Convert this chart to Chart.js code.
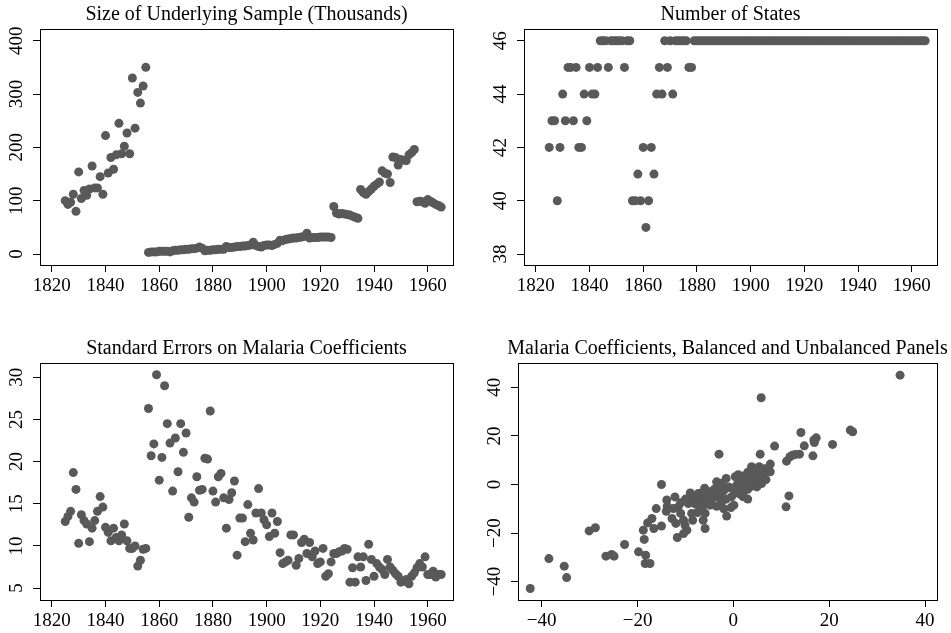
<!DOCTYPE html>
<html>
<head>
<meta charset="utf-8">
<script src="https://cdn.jsdelivr.net/npm/chart.js@4.4.1/dist/chart.umd.min.js"></script>
<style>
html,body{margin:0;padding:0;background:#fff;width:951px;height:633px;overflow:hidden}
canvas{position:absolute;left:0;top:0}
</style>
</head>
<body>
<canvas id="p1" width="951" height="633"></canvas>
<canvas id="p2" width="951" height="633"></canvas>
<canvas id="p3" width="951" height="633"></canvas>
<canvas id="p4" width="951" height="633"></canvas>
<script>
// ---------- data ----------
const years = [
  1825,1826,1827,1828,1829,1830,1831,1832,1833,1834,
  1835,1836,1837,1838,1839,1840,1841,1842,1843,1844,
  1845,1846,1847,1848,1849,1850,1851,1852,1853,1854,
  1855,1856,1857,1858,1859,1860,1861,1862,1863,1864,
  1865,1866,1867,1868,1869,1870,1871,1872,1873,1874,
  1875,1876,1877,1878,1879,1880,1881,1882,1883,1884,
  1885,1886,1887,1888,1889,1890,1891,1892,1893,1894,
  1895,1896,1897,1898,1899,1900,1901,1902,1903,1904,
  1905,1906,1907,1908,1909,1910,1911,1912,1913,1914,
  1915,1916,1917,1918,1919,1920,1921,1922,1923,1924,
  1925,1926,1927,1928,1929,1930,1931,1932,1933,1934,
  1935,1936,1937,1938,1939,1940,1941,1942,1943,1944,
  1945,1946,1947,1948,1949,1950,1951,1952,1953,1954,
  1955,1956,1957,1958,1959,1960,1961,1962,1963,1964,
  1965
];

// Size of underlying sample (thousands), 1825-1965
const sampleSize = [
  100, 93, 97,112, 80,154,104,119,110,122,
  165,124,124,145,112,222,152,181,159,186,
  245,188,202,227,188,330,236,303,283,315,
  350,  3,  4,  4,  4,  5,  5,  5,  5,  4,
    6,  7,  7,  8,  8,  9,  9, 10, 10, 11,
   13, 11,  6,  7,  7,  8,  8,  9,  9,  9,
   14, 12, 12, 13, 14, 14, 15, 15, 16, 17,
   22, 16, 14, 13, 16, 17, 17, 16, 18, 20,
   26, 25, 27, 28, 29, 30, 30, 31, 32, 33,
   39, 30, 31, 31, 31, 32, 32, 32, 32, 31,
   89, 77, 75, 76, 75, 74, 73, 71, 69, 67,
  121,115,112,117,122,127,131,135,156,152,
  150,134,182,181,167,177,176,175,186,190,
  196, 98, 99, 98, 95,102, 99, 96, 93, 91,
   88
];

// Number of states, 1825-1965
const numStates = [
  42,43,43,40,42,44,43,45,45,43,
  45,42,42,44,43,45,44,44,45,46,
  46,46,45,46,46,46,46,46,45,46,
  46,40,40,41,40,42,39,40,42,41,
  44,45,44,46,45,46,44,46,46,46,
  46,46,45,45,46,46,46,46,46,46,
  46,46,46,46,46,46,46,46,46,46,
  46,46,46,46,46,46,46,46,46,46,
  46,46,46,46,46,46,46,46,46,46,
  46,46,46,46,46,46,46,46,46,46,
  46,46,46,46,46,46,46,46,46,46,
  46,46,46,46,46,46,46,46,46,46,
  46,46,46,46,46,46,46,46,46,46,
  46,46,46,46,46,46,46,46,46,46,
  46
];

// Standard errors on malaria coefficients, 1825-1965
const stdErrors = [
  12.9,13.5,14.1,18.7,16.7,10.3,13.7,13.0,12.6,10.5,
  12.1,13.0,14.1,15.85,14.6,12.2,11.6,10.6,12.1,11.0,
  10.6,11.3,12.6,10.6, 9.7, 9.7,10.0, 7.6, 8.3, 9.6,
   9.7,26.3,20.7,22.1,30.3,17.8,20.5,29.0,24.5,22.2,
  16.5,22.8,18.8,24.5,21.1,23.4,13.4,15.7,15.2,18.2,
  16.6,16.7,20.4,20.3,26.0,16.5,15.2,18.2,18.6,15.7,
  12.1,15.5,16.3,17.7, 8.9,13.3,13.3,10.5,14.9,11.5,
  10.7,13.9,16.8,13.9,13.1,12.5,11.1,13.9,11.5,12.9,
   9.2, 7.9, 8.1, 8.3,11.3,11.3, 7.7, 8.5,10.4,10.8,
   9.1,10.4, 8.7, 9.4, 7.9, 8.1, 9.7, 6.4, 6.7, 8.1,
   9.1, 9.1, 9.3, 9.4, 9.7, 9.6, 5.7, 7.4, 5.7, 8.7,
   7.5, 8.7, 5.9,10.2, 8.4, 6.4, 7.9, 7.5, 7.2, 6.6,
   8.4, 7.5, 7.1, 6.7, 6.4, 5.7, 5.8, 6.0, 5.5, 6.4,
   6.8, 7.4, 7.9, 7.5, 8.7, 6.6, 6.6, 7.0, 6.3, 6.6,
   6.6
];

// Malaria coefficients: balanced panel (x) vs unbalanced panel (y)
const coefBalanced = [
  -42.4,-38.5,-35.3,-34.8,-30.1,-28.8,-26.6,-25.4,-24.9,-22.7,
  -19.8,-18.8,-18.6,-18.3,-18.4,-17.4,-17.9,-17.0,-16.6,-16.1,
  -15.0,-15.0,-13.9,-13.8,-12.8,-12.2,-11.7,-12.5,-11.5,-11.0,
  -10.4,-10.1, -9.7,-10.4, -9.4, -9.0, -8.7, -8.5, -8.2, -7.7,
   -7.3, -7.0, -6.6, -6.3, -5.9, -5.6, -5.2, -5.0, -5.9, -7.0,
   -4.9, -4.9, -3.5, -3.0, -2.8, -2.4, -1.4, -1.0, -0.4,  0.1,
    0.4,  0.7,  1.7,  2.1,  2.8,  3.1,  3.5,  3.8,  4.2,  4.5,
    4.9,  5.4,  5.6,  5.9,  5.6,  5.8,  6.3,  7.7,  7.7,  8.6,
   11.0, 11.6, 11.1, 11.8, 12.9, 13.8, 14.1, 14.8, 16.6, 16.9,
   17.3, 20.7, 24.4, 24.9, 34.8, -8.0, -6.0, -4.0, -3.0, -2.0,
   -1.5, -0.5,  0.5,  1.0,  1.5,  2.5,  3.0,  3.5,  4.0,  4.5,
    5.0,  5.2,  6.0,  6.5,  4.0,  3.0,  2.0,  1.0, -1.5, -2.5,
   -3.5, -4.5, -6.5, -7.5, -3.5, -9.0,-10.0,-11.0, 16.8, 12.3,
  -14.0, -2.0, -0.5,  2.0,  3.0,  6.8,  7.2,-12.0, -6.0, -4.0,
    1.5
];
const coefUnbalanced = [
  -42.8,-30.5,-33.6,-38.3,-19.1,-17.8,-29.5,-28.8,-29.5,-24.7,
  -27.7,-18.8,-22.6,-29.1,-32.5,-32.5,-15.8,-14.0,-18.1, -9.9,
    0.0,-17.1, -6.4, -8.9,-14.0, -5.1,-21.8, -9.9, -9.2,-11.9,
  -14.7,-16.7,-18.8,-20.2, -7.8, -6.4,-11.9,-14.7, -5.1, -6.4,
   -3.7, -9.2, -6.4,-14.7,-18.1, -7.8, -5.1, -3.0,-11.9, -3.7,
   -3.7, -8.5,  1.1, 12.5, -3.7, -7.1,-13.0, -1.0, -5.1, -8.5,
    3.2, -0.3,  1.8, -3.0, -0.3,  3.2, -1.0,  7.3,  1.8,  4.5,
   -1.0,  7.3,  1.8,  0.4, 12.5, 35.7,  4.5,  8.4,  5.2, 15.8,
   -9.2, -4.7,  9.6, 11.4, 12.3, 12.5, 21.4, 15.9, 11.8, 17.3,
   19.2, 16.5, 22.4, 21.7, 45.0, -8.0, -4.5, -2.0, -5.5, -2.5,
   -6.0, -1.5, -3.5,  0.5, -1.5,  1.0, -2.0,  2.5, -0.5,  6.0,
    3.0,  5.5,  2.5,  6.5,  3.5,  5.0,  3.5,  4.0,  2.5,  0.5,
   -1.5, -6.0, -9.5,-11.5, -9.0, -3.5, -6.0, -7.5, 18.3, 12.0,
  -11.0,-10.0, -9.5, -5.0, -6.0,  2.0,  6.5,-16.0, -1.5, -5.0,
   -4.0
];

// tick labels
const yearTicks  = [1820,1840,1860,1880,1900,1920,1940,1960];
const sampleTicks = [0,100,200,300,400];
const stateTicks  = [38,40,42,44,46];
const seTicks     = [5,10,15,20,25,30];
const coefTicks   = [-40,-20,0,20,40];

const titles = [
  'Size of Underlying Sample (Thousands)',
  'Number of States',
  'Standard Errors on Malaria Coefficients',
  'Malaria Coefficients, Balanced and Unbalanced Panels'
];

// ---------- drawing ----------
const FAMILY = '"Liberation Serif", "Times New Roman", serif';
const TICK_SIZE = 19;
const TITLE_SIZE = 20;
const DOT = '#595959';
const YW = 40, XH = 30, TL = 7;

function fmt(v){ return v < 0 ? '\u2212' + Math.abs(v) : String(v); }
const mctx = document.createElement('canvas').getContext('2d');
function widest(labels){
  mctx.font = TICK_SIZE + 'px ' + FAMILY;
  return Math.max(...labels.map(l => mctx.measureText(l).width));
}

const framePlugin = {
  id: 'panelFrame',
  afterDraw(chart, args, opts) {
    const {ctx, chartArea: a} = chart;
    ctx.save();
    ctx.strokeStyle = '#000';
    ctx.lineWidth = 1;
    ctx.strokeRect(Math.round(a.left) + 0.5, Math.round(a.top) + 0.5,
                   Math.round(a.right - a.left), Math.round(a.bottom - a.top));
    ctx.fillStyle = '#000';
    ctx.font = TITLE_SIZE + 'px ' + FAMILY;
    ctx.textAlign = 'center';
    ctx.textBaseline = 'alphabetic';
    ctx.fillText(opts.title, (a.left + a.right) / 2, a.top - 9);
    ctx.restore();
  }
};

function panel(id, p) {
  const ypad = 23.3 - TL - widest(p.yTicks.map(fmt)) / 2;
  const axisCommon = {
    type: 'linear',
    grid: { display: true, drawOnChartArea: false, drawTicks: true, tickLength: TL, color: '#000', lineWidth: 1 },
    border: { display: false }
  };
  new Chart(document.getElementById(id), {
    type: 'scatter',
    data: {
      datasets: [{
        data: p.xs.map((x, i) => ({x: x, y: p.ys[i]})),
        backgroundColor: DOT,
        borderWidth: 0,
        pointRadius: 4.5,
        pointHoverRadius: 4.5
      }]
    },
    options: {
      responsive: false,
      animation: false,
      devicePixelRatio: 1,
      events: [],
      layout: { padding: { left: p.box[0] - YW, top: p.box[1], right: 951 - p.box[2], bottom: 633 - p.box[3] - XH } },
      plugins: {
        legend: { display: false },
        tooltip: { enabled: false },
        title: { display: false },
        panelFrame: { title: p.title }
      },
      scales: {
        x: Object.assign({}, axisCommon, {
          position: 'bottom',
          min: p.xRange[0], max: p.xRange[1],
          afterBuildTicks: s => { s.ticks = p.xTicks.map(v => ({value: v})); },
          afterFit: s => { s.height = XH; },
          ticks: { color: '#000', font: { family: FAMILY, size: TICK_SIZE }, padding: 2.5,
                   minRotation: 0, maxRotation: 0, autoSkip: false, callback: v => fmt(v) }
        }),
        y: Object.assign({}, axisCommon, {
          position: 'left',
          min: p.yRange[0], max: p.yRange[1],
          afterBuildTicks: s => { s.ticks = p.yTicks.map(v => ({value: v})); },
          afterFit: s => { s.width = YW; },
          ticks: { color: '#000', font: { family: FAMILY, size: TICK_SIZE }, padding: ypad,
                   crossAlign: 'center', minRotation: 90, maxRotation: 90, autoSkip: false, callback: v => fmt(v) }
        })
      }
    },
    plugins: [framePlugin]
  });
}

panel('p1', { box: [40, 29, 453, 265], xRange: [1815.6, 1969.4], yRange: [-20.6, 421.9],
  xs: years, ys: sampleSize, xTicks: yearTicks, yTicks: sampleTicks, title: titles[0] });
panel('p2', { box: [524, 29, 937, 265], xRange: [1815.6, 1969.4], yRange: [37.59, 46.44],
  xs: years, ys: numStates, xTicks: yearTicks, yTicks: stateTicks, title: titles[1] });
panel('p3', { box: [40, 363, 453, 600], xRange: [1815.6, 1969.4], yRange: [3.58, 31.70],
  xs: years, ys: stdErrors, xTicks: yearTicks, yTicks: seTicks, title: titles[2] });
panel('p4', { box: [518, 363, 937, 600], xRange: [-44.95, 42.5], yRange: [-47.53, 50.0],
  xs: coefBalanced, ys: coefUnbalanced, xTicks: coefTicks, yTicks: coefTicks, title: titles[3] });
</script>
</body>
</html>
